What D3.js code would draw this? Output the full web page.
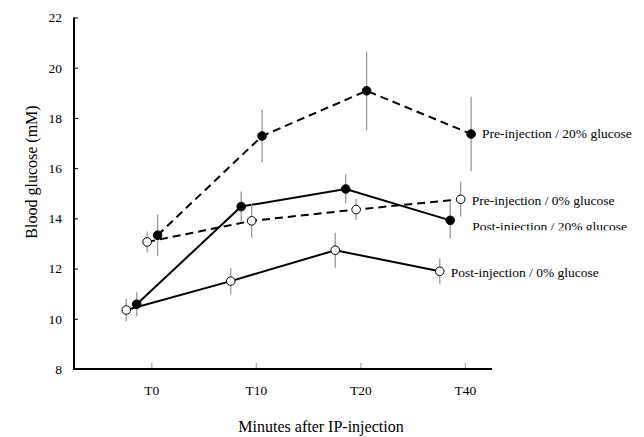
<!DOCTYPE html>
<html><head><meta charset="utf-8">
<script src="https://cdn.jsdelivr.net/npm/d3@7"></script>
<style>
html,body{margin:0;padding:0;background:#fff;}
svg{display:block;}
svg text{font-family:"Liberation Serif","Times New Roman",serif !important;}
</style></head>
<body><svg id="c" width="644" height="437"></svg>
<script>
const categories = ["T0","T10","T20","T40"];
const seriesNames = ["Post-injection / 0% glucose","Post-injection / 20% glucose","Pre-injection / 0% glucose","Pre-injection / 20% glucose"];
const post0Mean  = [10.35, 11.50, 12.73, 11.89];
const post0Err   = [0.45, 0.52, 0.70, 0.51];
const post20Mean = [10.58, 14.47, 15.17, 13.92];
const post20Err  = [0.48, 0.60, 0.58, 0.72];
const pre0Mean   = [13.06, 13.90, 14.35, 14.76];
const pre0Err    = [0.42, 0.66, 0.42, 0.70];
const pre20Mean  = [13.33, 17.28, 19.08, 17.36];
const pre20Err   = [0.82, 1.05, 1.56, 1.48];
const yTicks = [8,10,12,14,16,18,20,22];

const series = [
  {name:seriesNames[0], mean:post0Mean,  err:post0Err,  filled:false, dashed:false, off:0.0, ldx:11, ldy:1,  clip:false},
  {name:seriesNames[1], mean:post20Mean, err:post20Err, filled:true,  dashed:false, off:0.1, ldx:22, ldy:6,  clip:true},
  {name:seriesNames[2], mean:pre0Mean,   err:pre0Err,   filled:false, dashed:true,  off:0.2, ldx:11, ldy:1,  clip:false},
  {name:seriesNames[3], mean:pre20Mean,  err:pre20Err,  filled:true,  dashed:true,  off:0.3, ldx:11, ldy:-1, clip:false}
];

const FONT = "Liberation Serif";
const svg = d3.select("#c");
const x = d3.scaleLinear().domain([-0.5, 3.5]).range([74, 492]);
const y = d3.scaleLinear().domain([8, 22]).range([369, 17.5]);

// y axis
const yAxis = svg.append("g").attr("transform","translate(74,0)")
  .call(d3.axisRight(y).tickValues(yTicks).tickSize(4).tickFormat(d3.format("d")))
  .attr("font-family",FONT);
yAxis.select(".domain").remove();
yAxis.selectAll(".tick line").attr("stroke","#000").attr("stroke-width",1);
yAxis.selectAll(".tick text").attr("x",-12).attr("text-anchor","end")
  .attr("font-size",13.5).attr("fill","#000");
svg.append("line").attr("x1",74).attr("x2",74).attr("y1",y(22)).attr("y2",y(8)+1)
  .attr("stroke","#000").attr("stroke-width",2);

// x axis
const xAxis = svg.append("g").attr("transform","translate(0,369)")
  .call(d3.axisTop(x).tickValues(d3.range(categories.length).map(i=>i+0.24)).tickSize(6)
  .tickFormat((d,i)=>categories[i]))
  .attr("font-family",FONT);
xAxis.select(".domain").remove();
xAxis.selectAll(".tick line").attr("stroke","#aaa").attr("stroke-width",1.2);
xAxis.selectAll(".tick text").attr("y",26).attr("font-size",13.5).attr("fill","#000");
svg.append("line").attr("x1",73).attr("x2",492).attr("y1",369).attr("y2",369)
  .attr("stroke","#000").attr("stroke-width",2);

// titles
svg.append("text").attr("x",321).attr("y",432).attr("text-anchor","middle")
  .attr("font-family",FONT).attr("font-size",16).text("Minutes after IP-injection");
svg.append("text").attr("transform","translate(37,172) rotate(-90)").attr("text-anchor","middle")
  .attr("font-family",FONT).attr("font-size",16).text("Blood glucose (mM)");

const defs = svg.append("defs");

series.forEach((s,si)=>{
  const g = svg.append("g");
  g.selectAll("line.err").data(s.mean).enter().append("line")
    .attr("x1",(d,i)=>x(i+s.off)).attr("x2",(d,i)=>x(i+s.off))
    .attr("y1",(d,i)=>y(d - s.err[i])).attr("y2",(d,i)=>y(d + s.err[i]))
    .attr("stroke","#999").attr("stroke-width",1.3);
  const line = d3.line().x((d,i)=>x(i+s.off)).y(d=>y(d));
  g.append("path").attr("d",line(s.mean)).attr("fill","none").attr("stroke","#000")
    .attr("stroke-width",2).attr("stroke-dasharray",s.dashed?"8,5":null);
});
series.forEach((s,si)=>{
  svg.append("g").selectAll("circle").data(s.mean).enter().append("circle")
    .attr("cx",(d,i)=>x(i+s.off)).attr("cy",d=>y(d)).attr("r",4.3)
    .attr("fill",s.filled?"#000":"#fff").attr("stroke","#000").attr("stroke-width",1);
  const last = s.mean.length-1;
  const lx = x(last+s.off)+s.ldx, ly = y(s.mean[last])+s.ldy;
  const t = svg.append("text").attr("x",lx).attr("y",ly).attr("dy","0.35em")
    .attr("font-family",FONT).attr("font-size",13.5).attr("fill","#000").text(s.name);
  if(s.clip){
    defs.append("clipPath").attr("id","clip"+si).append("rect")
      .attr("x",lx-2).attr("y",ly-12).attr("width",200).attr("height",16);
    t.attr("clip-path","url(#clip"+si+")");
  }
});
</script></body></html>
